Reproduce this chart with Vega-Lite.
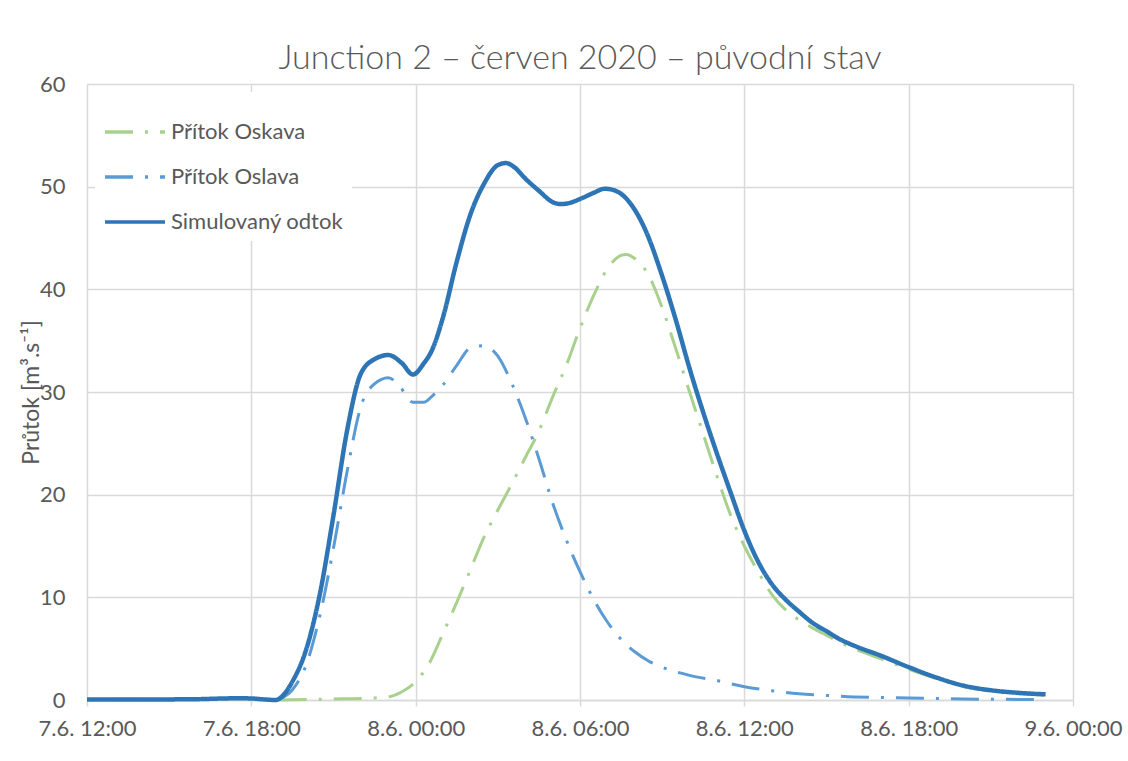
{
  "$schema": "https://vega.github.io/schema/vega-lite/v6.json",
  "width": 986,
  "height": 616,
  "padding": {"left": 20, "top": 42, "right": 5, "bottom": 5},
  "title": {"text": "Junction 2 – červen 2020 – původní stav", "fontSize": 34, "font": "Lato", "fontWeight": 300, "color": "#595959", "anchor": "middle", "offset": -3},
  "config": {"view": {"stroke": null}, "font": "Lato"},
  "data": {"values": [
    {"t": "2020-06-07T19:00", "s": "Přítok Oskava", "q": 0.0},
    {"t": "2020-06-07T20:00", "s": "Přítok Oskava", "q": 0.05},
    {"t": "2020-06-07T21:00", "s": "Přítok Oskava", "q": 0.1},
    {"t": "2020-06-07T22:00", "s": "Přítok Oskava", "q": 0.15},
    {"t": "2020-06-07T22:30", "s": "Přítok Oskava", "q": 0.2},
    {"t": "2020-06-07T23:00", "s": "Přítok Oskava", "q": 0.3},
    {"t": "2020-06-07T23:30", "s": "Přítok Oskava", "q": 0.8},
    {"t": "2020-06-08T00:00", "s": "Přítok Oskava", "q": 1.8},
    {"t": "2020-06-08T00:30", "s": "Přítok Oskava", "q": 3.6},
    {"t": "2020-06-08T01:00", "s": "Přítok Oskava", "q": 6.5},
    {"t": "2020-06-08T01:30", "s": "Přítok Oskava", "q": 9.5},
    {"t": "2020-06-08T02:00", "s": "Přítok Oskava", "q": 12.7},
    {"t": "2020-06-08T02:30", "s": "Přítok Oskava", "q": 15.9},
    {"t": "2020-06-08T03:00", "s": "Přítok Oskava", "q": 18.5},
    {"t": "2020-06-08T03:30", "s": "Přítok Oskava", "q": 21.0},
    {"t": "2020-06-08T04:00", "s": "Přítok Oskava", "q": 23.6},
    {"t": "2020-06-08T04:30", "s": "Přítok Oskava", "q": 26.2},
    {"t": "2020-06-08T05:00", "s": "Přítok Oskava", "q": 29.5},
    {"t": "2020-06-08T05:30", "s": "Přítok Oskava", "q": 32.6},
    {"t": "2020-06-08T06:00", "s": "Přítok Oskava", "q": 36.2},
    {"t": "2020-06-08T06:30", "s": "Přítok Oskava", "q": 39.4},
    {"t": "2020-06-08T07:00", "s": "Přítok Oskava", "q": 42.0},
    {"t": "2020-06-08T07:30", "s": "Přítok Oskava", "q": 43.3},
    {"t": "2020-06-08T07:42", "s": "Přítok Oskava", "q": 43.4},
    {"t": "2020-06-08T08:00", "s": "Přítok Oskava", "q": 43.0},
    {"t": "2020-06-08T08:30", "s": "Přítok Oskava", "q": 41.4},
    {"t": "2020-06-08T09:00", "s": "Přítok Oskava", "q": 38.2},
    {"t": "2020-06-08T09:30", "s": "Přítok Oskava", "q": 34.2},
    {"t": "2020-06-08T10:00", "s": "Přítok Oskava", "q": 30.0},
    {"t": "2020-06-08T10:30", "s": "Přítok Oskava", "q": 25.9},
    {"t": "2020-06-08T11:00", "s": "Přítok Oskava", "q": 21.8},
    {"t": "2020-06-08T11:30", "s": "Přítok Oskava", "q": 18.0},
    {"t": "2020-06-08T12:00", "s": "Přítok Oskava", "q": 15.0},
    {"t": "2020-06-08T12:30", "s": "Přítok Oskava", "q": 12.5},
    {"t": "2020-06-08T13:00", "s": "Přítok Oskava", "q": 10.3},
    {"t": "2020-06-08T13:30", "s": "Přítok Oskava", "q": 8.8},
    {"t": "2020-06-08T14:00", "s": "Přítok Oskava", "q": 7.8},
    {"t": "2020-06-08T14:30", "s": "Přítok Oskava", "q": 7.0},
    {"t": "2020-06-08T15:00", "s": "Přítok Oskava", "q": 6.3},
    {"t": "2020-06-08T15:30", "s": "Přítok Oskava", "q": 5.6},
    {"t": "2020-06-08T16:00", "s": "Přítok Oskava", "q": 5.0},
    {"t": "2020-06-08T17:00", "s": "Přítok Oskava", "q": 4.0},
    {"t": "2020-06-08T18:00", "s": "Přítok Oskava", "q": 3.0},
    {"t": "2020-06-08T19:00", "s": "Přítok Oskava", "q": 2.1},
    {"t": "2020-06-08T20:00", "s": "Přítok Oskava", "q": 1.3},
    {"t": "2020-06-08T21:00", "s": "Přítok Oskava", "q": 0.85},
    {"t": "2020-06-08T22:00", "s": "Přítok Oskava", "q": 0.6},
    {"t": "2020-06-08T23:00", "s": "Přítok Oskava", "q": 0.45},
    {"t": "2020-06-07T19:00", "s": "Přítok Oslava", "q": 0.05},
    {"t": "2020-06-07T19:30", "s": "Přítok Oslava", "q": 1.0},
    {"t": "2020-06-07T20:00", "s": "Přítok Oslava", "q": 3.4},
    {"t": "2020-06-07T20:30", "s": "Přítok Oslava", "q": 8.2},
    {"t": "2020-06-07T21:00", "s": "Přítok Oslava", "q": 14.8},
    {"t": "2020-06-07T21:30", "s": "Přítok Oslava", "q": 22.3},
    {"t": "2020-06-07T22:00", "s": "Přítok Oslava", "q": 28.6},
    {"t": "2020-06-07T22:30", "s": "Přítok Oslava", "q": 30.8},
    {"t": "2020-06-07T23:00", "s": "Přítok Oslava", "q": 31.4},
    {"t": "2020-06-07T23:24", "s": "Přítok Oslava", "q": 30.6},
    {"t": "2020-06-07T23:54", "s": "Přítok Oslava", "q": 29.0},
    {"t": "2020-06-08T00:18", "s": "Přítok Oslava", "q": 29.0},
    {"t": "2020-06-08T00:36", "s": "Přítok Oslava", "q": 29.6},
    {"t": "2020-06-08T01:00", "s": "Přítok Oslava", "q": 30.7},
    {"t": "2020-06-08T01:30", "s": "Přítok Oslava", "q": 32.6},
    {"t": "2020-06-08T02:00", "s": "Přítok Oslava", "q": 34.3},
    {"t": "2020-06-08T02:27", "s": "Přítok Oslava", "q": 34.5},
    {"t": "2020-06-08T03:00", "s": "Přítok Oslava", "q": 33.5},
    {"t": "2020-06-08T03:30", "s": "Přítok Oslava", "q": 30.9},
    {"t": "2020-06-08T04:00", "s": "Přítok Oslava", "q": 27.5},
    {"t": "2020-06-08T04:30", "s": "Přítok Oslava", "q": 23.5},
    {"t": "2020-06-08T05:00", "s": "Přítok Oslava", "q": 19.2},
    {"t": "2020-06-08T05:30", "s": "Přítok Oslava", "q": 15.6},
    {"t": "2020-06-08T06:00", "s": "Přítok Oslava", "q": 12.5},
    {"t": "2020-06-08T06:30", "s": "Přítok Oslava", "q": 9.8},
    {"t": "2020-06-08T07:00", "s": "Přítok Oslava", "q": 7.6},
    {"t": "2020-06-08T07:30", "s": "Přítok Oslava", "q": 5.9},
    {"t": "2020-06-08T08:00", "s": "Přítok Oslava", "q": 4.7},
    {"t": "2020-06-08T08:30", "s": "Přítok Oslava", "q": 3.8},
    {"t": "2020-06-08T09:00", "s": "Přítok Oslava", "q": 3.2},
    {"t": "2020-06-08T10:00", "s": "Přítok Oslava", "q": 2.4},
    {"t": "2020-06-08T11:00", "s": "Přítok Oslava", "q": 1.9},
    {"t": "2020-06-08T12:00", "s": "Přítok Oslava", "q": 1.3},
    {"t": "2020-06-08T13:00", "s": "Přítok Oslava", "q": 0.9},
    {"t": "2020-06-08T14:00", "s": "Přítok Oslava", "q": 0.6},
    {"t": "2020-06-08T15:00", "s": "Přítok Oslava", "q": 0.45},
    {"t": "2020-06-08T16:00", "s": "Přítok Oslava", "q": 0.3},
    {"t": "2020-06-08T18:00", "s": "Přítok Oslava", "q": 0.2},
    {"t": "2020-06-08T20:00", "s": "Přítok Oslava", "q": 0.1},
    {"t": "2020-06-08T23:00", "s": "Přítok Oslava", "q": 0.05},
    {"t": "2020-06-07T12:00", "s": "Simulovaný odtok", "q": 0.05},
    {"t": "2020-06-07T14:00", "s": "Simulovaný odtok", "q": 0.05},
    {"t": "2020-06-07T16:00", "s": "Simulovaný odtok", "q": 0.08},
    {"t": "2020-06-07T17:00", "s": "Simulovaný odtok", "q": 0.15},
    {"t": "2020-06-07T17:30", "s": "Simulovaný odtok", "q": 0.17},
    {"t": "2020-06-07T18:00", "s": "Simulovaný odtok", "q": 0.15},
    {"t": "2020-06-07T18:30", "s": "Simulovaný odtok", "q": 0.05},
    {"t": "2020-06-07T18:54", "s": "Simulovaný odtok", "q": 0.0},
    {"t": "2020-06-07T19:00", "s": "Simulovaný odtok", "q": 0.1},
    {"t": "2020-06-07T19:30", "s": "Simulovaný odtok", "q": 1.8},
    {"t": "2020-06-07T20:00", "s": "Simulovaný odtok", "q": 4.9},
    {"t": "2020-06-07T20:30", "s": "Simulovaný odtok", "q": 10.3},
    {"t": "2020-06-07T21:00", "s": "Simulovaný odtok", "q": 18.0},
    {"t": "2020-06-07T21:30", "s": "Simulovaný odtok", "q": 26.3},
    {"t": "2020-06-07T22:00", "s": "Simulovaný odtok", "q": 31.8},
    {"t": "2020-06-07T22:30", "s": "Simulovaný odtok", "q": 33.2},
    {"t": "2020-06-07T23:00", "s": "Simulovaný odtok", "q": 33.6},
    {"t": "2020-06-07T23:30", "s": "Simulovaný odtok", "q": 32.8},
    {"t": "2020-06-07T23:54", "s": "Simulovaný odtok", "q": 31.7},
    {"t": "2020-06-08T00:18", "s": "Simulovaný odtok", "q": 32.8},
    {"t": "2020-06-08T00:36", "s": "Simulovaný odtok", "q": 34.1},
    {"t": "2020-06-08T01:00", "s": "Simulovaný odtok", "q": 37.3},
    {"t": "2020-06-08T01:30", "s": "Simulovaný odtok", "q": 42.7},
    {"t": "2020-06-08T02:00", "s": "Simulovaný odtok", "q": 47.3},
    {"t": "2020-06-08T02:30", "s": "Simulovaný odtok", "q": 50.3},
    {"t": "2020-06-08T03:00", "s": "Simulovaný odtok", "q": 52.1},
    {"t": "2020-06-08T03:18", "s": "Simulovaný odtok", "q": 52.3},
    {"t": "2020-06-08T03:36", "s": "Simulovaný odtok", "q": 51.9},
    {"t": "2020-06-08T04:00", "s": "Simulovaný odtok", "q": 50.8},
    {"t": "2020-06-08T04:30", "s": "Simulovaný odtok", "q": 49.6},
    {"t": "2020-06-08T05:00", "s": "Simulovaný odtok", "q": 48.5},
    {"t": "2020-06-08T05:18", "s": "Simulovaný odtok", "q": 48.3},
    {"t": "2020-06-08T05:36", "s": "Simulovaný odtok", "q": 48.4},
    {"t": "2020-06-08T06:00", "s": "Simulovaný odtok", "q": 48.8},
    {"t": "2020-06-08T06:30", "s": "Simulovaný odtok", "q": 49.4},
    {"t": "2020-06-08T06:54", "s": "Simulovaný odtok", "q": 49.8},
    {"t": "2020-06-08T07:18", "s": "Simulovaný odtok", "q": 49.6},
    {"t": "2020-06-08T07:48", "s": "Simulovaný odtok", "q": 48.5},
    {"t": "2020-06-08T08:24", "s": "Simulovaný odtok", "q": 45.7},
    {"t": "2020-06-08T09:00", "s": "Simulovaný odtok", "q": 41.3},
    {"t": "2020-06-08T09:30", "s": "Simulovaný odtok", "q": 37.0},
    {"t": "2020-06-08T10:00", "s": "Simulovaný odtok", "q": 32.3},
    {"t": "2020-06-08T10:30", "s": "Simulovaný odtok", "q": 28.0},
    {"t": "2020-06-08T11:00", "s": "Simulovaný odtok", "q": 24.0},
    {"t": "2020-06-08T11:30", "s": "Simulovaný odtok", "q": 20.2},
    {"t": "2020-06-08T12:00", "s": "Simulovaný odtok", "q": 16.5},
    {"t": "2020-06-08T12:30", "s": "Simulovaný odtok", "q": 13.5},
    {"t": "2020-06-08T13:00", "s": "Simulovaný odtok", "q": 11.3},
    {"t": "2020-06-08T13:30", "s": "Simulovaný odtok", "q": 9.8},
    {"t": "2020-06-08T14:00", "s": "Simulovaný odtok", "q": 8.6},
    {"t": "2020-06-08T14:30", "s": "Simulovaný odtok", "q": 7.5},
    {"t": "2020-06-08T15:00", "s": "Simulovaný odtok", "q": 6.7},
    {"t": "2020-06-08T15:30", "s": "Simulovaný odtok", "q": 5.9},
    {"t": "2020-06-08T16:00", "s": "Simulovaný odtok", "q": 5.3},
    {"t": "2020-06-08T17:00", "s": "Simulovaný odtok", "q": 4.3},
    {"t": "2020-06-08T18:00", "s": "Simulovaný odtok", "q": 3.2},
    {"t": "2020-06-08T19:00", "s": "Simulovaný odtok", "q": 2.2},
    {"t": "2020-06-08T20:00", "s": "Simulovaný odtok", "q": 1.4},
    {"t": "2020-06-08T21:00", "s": "Simulovaný odtok", "q": 0.95},
    {"t": "2020-06-08T22:00", "s": "Simulovaný odtok", "q": 0.7},
    {"t": "2020-06-08T23:00", "s": "Simulovaný odtok", "q": 0.55}
  ]},
  "mark": {"type": "line", "interpolate": "monotone"},
  "encoding": {
    "x": {
      "field": "t", "type": "temporal",
      "scale": {"domain": [{"year": 2020, "month": 6, "date": 7, "hours": 12}, {"year": 2020, "month": 6, "date": 9, "hours": 0}]},
      "axis": {
        "title": null, "format": "%-d.%-m. %H:%M",
        "tickCount": 6,
        "labelFontSize": 22, "labelColor": "#595959", "labelFont": "Lato",
        "labelFlush": false, "labelOverlap": false, "labelPadding": 12,
        "domainColor": "#d9d9d9", "domainWidth": 1.5,
        "tickColor": "#d9d9d9", "tickWidth": 1.5, "tickSize": 6,
        "gridColor": "#d9d9d9", "gridWidth": 1.5
      }
    },
    "y": {
      "field": "q", "type": "quantitative",
      "scale": {"domain": [0, 60], "nice": false},
      "axis": {
        "title": "Průtok [m³.s⁻¹]", "values": [0, 10, 20, 30, 40, 50, 60],
        "domain": false, "ticks": false, "labelPadding": 22,
        "labelFontSize": 22, "labelColor": "#595959", "labelFont": "Lato",
        "gridColor": "#d9d9d9", "gridWidth": 1.5,
        "titleFontSize": 23, "titleColor": "#595959", "titleFont": "Lato", "titleFontWeight": "normal",
        "titleX": -44, "titleY": 308, "titleAlign": "center"
      }
    },
    "color": {
      "field": "s", "type": "nominal",
      "scale": {"domain": ["Přítok Oskava", "Přítok Oslava", "Simulovaný odtok"], "range": ["#A9D18E", "#5B9BD5", "#2E75B6"]},
      "legend": {"title": null, "orient": "top-left", "offset": 8, "symbolType": "stroke", "symbolSize": 3600, "symbolStrokeWidth": 3.5, "labelFontSize": 22, "labelColor": "#595959", "labelFont": "Lato", "labelLimit": 400, "fillColor": "white", "padding": 8}
    },
    "strokeDash": {
      "field": "s", "type": "nominal",
      "scale": {"domain": ["Přítok Oskava", "Přítok Oslava", "Simulovaný odtok"], "range": [[28, 12, 3, 12], [28, 12, 3, 12], [1, 0]]},
      "legend": {"title": null, "orient": "top-left", "offset": 8, "symbolType": "stroke", "symbolSize": 3600, "symbolStrokeWidth": 3.5, "labelFontSize": 22, "labelColor": "#595959", "labelFont": "Lato", "labelLimit": 400, "fillColor": "white", "padding": 8}
    },
    "strokeWidth": {"condition": {"test": "datum.s === 'Simulovaný odtok'", "value": 4.5}, "value": 3}
  }
}
